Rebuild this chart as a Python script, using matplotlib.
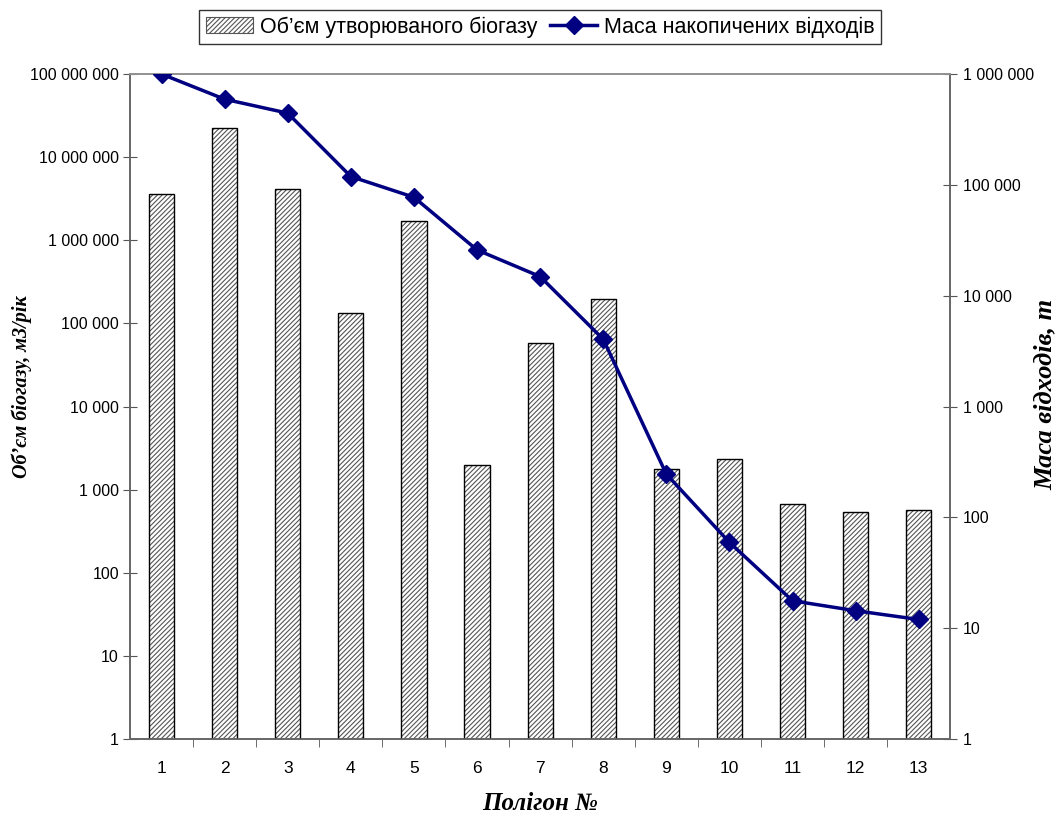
import matplotlib.pyplot as plt
import matplotlib.ticker as mticker
from matplotlib.patches import Patch
from matplotlib.lines import Line2D

# polygon numbers
polygons = [1, 2, 3, 4, 5, 6, 7, 8, 9, 10, 11, 12, 13]
# biogas volume, m3/year (left axis)
biogas = [3600000, 22500000, 4200000, 134000, 1710000, 1980, 58000, 197000,
          1775, 2340, 673, 540, 570]
# accumulated waste mass, t (right axis)
waste = [1000000, 593000, 444000, 119000, 77400, 25900, 14900, 4050,
         246, 59.6, 17.7, 14.4, 12.0]
left_ticks = [1, 10, 100, 1000, 10000, 100000, 1000000, 10000000, 100000000]
right_ticks = [1, 10, 100, 1000, 10000, 100000, 1000000]

plt.rcParams['font.family'] = ['Liberation Sans', 'DejaVu Sans']
plt.rcParams['hatch.linewidth'] = 0.8

fig = plt.figure(figsize=(10.57, 8.14), dpi=100)
ax = fig.add_axes([0.123, 0.092, 0.776, 0.817])
ax2 = ax.twinx()

x = list(range(len(polygons)))

# hatched fill, then black outline on top
ax.bar(x, biogas, width=0.4, bottom=0, color='white', edgecolor='#555555',
       hatch='///////', linewidth=0, zorder=2)
ax.bar(x, biogas, width=0.4, bottom=0, fill=False, edgecolor='black',
       linewidth=1.0, zorder=3)

ax2.plot(x, waste, color='#000080', lw=2.5, marker='D', ms=9,
         markeredgecolor='#000080', zorder=4)

def spaced(v, pos):
    return f'{int(round(v)):,}'.replace(',', ' ')

ax.set_yscale('log')
ax.set_ylim(1, 1e8)
ax.yaxis.set_major_locator(mticker.FixedLocator(left_ticks))
ax.yaxis.set_minor_locator(mticker.NullLocator())
ax.yaxis.set_major_formatter(mticker.FuncFormatter(spaced))

ax2.set_yscale('log')
ax2.set_ylim(1, 1e6)
ax2.yaxis.set_major_locator(mticker.FixedLocator(right_ticks))
ax2.yaxis.set_minor_locator(mticker.NullLocator())
ax2.yaxis.set_major_formatter(mticker.FuncFormatter(spaced))

ax.set_xlim(-0.5, len(polygons) - 0.5)
ax.set_xticks(x)
ax.set_xticklabels([str(p) for p in polygons])
ax.set_xticks([i + 0.5 for i in x[:-1]], minor=True)
ax.tick_params(axis='x', which='major', length=0, pad=16, labelsize=12.5)
ax.tick_params(axis='x', which='minor', length=6, direction='out', color='#555555')
ax.tick_params(axis='y', length=10, direction='inout', labelsize=11.5, color='#555555', pad=3)
ax2.tick_params(axis='y', length=10, direction='inout', labelsize=11.5, color='#555555', pad=4)

for a in (ax, ax2):
    for s in a.spines.values():
        s.set_color('#666666')
        s.set_linewidth(1.2)
ax2.spines['top'].set_color('#999999')

lab = dict(fontweight='bold', style='italic', family='Liberation Serif')
fig.text(0.021, 0.525, 'Об’єм біогазу, м3/рік', rotation=90, ha='center', va='center',
         fontsize=14.5, **lab)
fig.text(0.989, 0.515, 'Маса відходів, т', rotation=90, ha='center', va='center',
         fontsize=19, **lab)
fig.text(0.511, 0.013, 'Полігон №', ha='center', va='center', fontsize=18, **lab)

handles = [Patch(facecolor='white', edgecolor='#555555', hatch='///////', linewidth=0.8),
           Line2D([0], [0], color='#000080', lw=2.5, marker='D', ms=9)]
leg = fig.legend(handles, ['Об’єм утворюваного біогазу', 'Маса накопичених відходів'],
                 loc='center', bbox_to_anchor=(0.511, 0.967), ncol=2, fontsize=15.5,
                 frameon=True, fancybox=False, edgecolor='black', handlelength=2.2,
                 columnspacing=0.6, handletextpad=0.3, borderpad=0.3)
leg.get_frame().set_linewidth(1.0)

fig.savefig('out.png', dpi=100)
